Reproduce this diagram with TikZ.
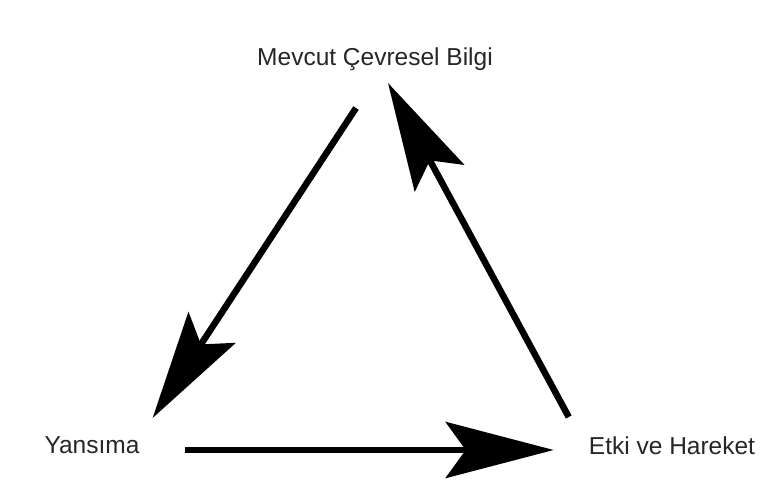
\documentclass[tikz,border=0pt]{standalone}
\usepackage{fontspec}
\setmainfont{Liberation Sans}
\usetikzlibrary{arrows.meta,calc}
\tikzset{
  >={Stealth[length=108pt,width=56pt,inset=20pt]},
  lbl/.style={inner sep=0pt,font=\fontsize{24.5}{28}\selectfont,text=black!85},
  flow/.style={->,line width=6.5pt,draw=black},
}

\begin{document}
\begin{tikzpicture}[x=1pt,y=-1pt]
  \useasboundingbox (0,0) rectangle (761,495);
  \node[lbl,anchor=base] (info) at (375,66) {Mevcut Çevresel Bilgi};
  \node[lbl,anchor=base] (yansima) at (92,453) {Yansıma};
  \node[lbl,anchor=base] (etki) at (672,454) {Etki ve Hareket};
  % cycle
  \draw[flow] ($(info.base)+(-19,42)$) -- ($(yansima.base east)+(13,-35)$);
  \draw[flow] ($(yansima.base east)+(45,-3)$) -- ($(etki.base west)+(-35,-4)$);
  \draw[flow] ($(etki.base west)+(-20,-37)$) -- ($(info.base)+(13,17)$);
\end{tikzpicture}
\end{document}
